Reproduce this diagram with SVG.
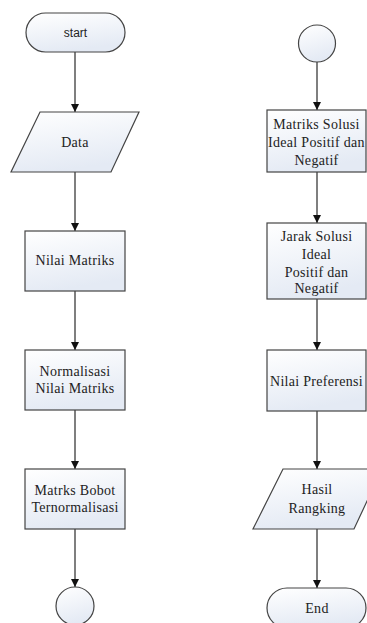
<svg xmlns="http://www.w3.org/2000/svg" width="367" height="623" viewBox="0 0 367 623">
<defs>
<linearGradient id="fillg" x1="0" y1="0" x2="0.3" y2="1">
<stop offset="0" stop-color="#ffffff"/>
<stop offset="1" stop-color="#e4eaf4"/>
</linearGradient>
<marker id="arr" viewBox="0 0 10 10" refX="10" refY="5" markerWidth="8" markerHeight="8" markerUnits="userSpaceOnUse" orient="auto">
<path d="M0,0 L10,5 L0,10 z" fill="#111"/>
</marker>
</defs>
<style>
.shape{fill:url(#fillg);stroke:#444;stroke-width:1.2}
.t{font-family:"Liberation Serif","Times New Roman",serif;font-size:14px;letter-spacing:0.3px;fill:#222;text-anchor:middle}
.ts{font-family:"Liberation Sans",Arial,sans-serif;font-size:12px;fill:#222;text-anchor:middle}
.c{stroke:#555;stroke-width:1.5;fill:none;marker-end:url(#arr)}
</style>
<rect width="367" height="623" fill="#ffffff"/>
<g id="connectors">
<line class="c" x1="75" y1="52" x2="75" y2="112"/>
<line class="c" x1="75" y1="172" x2="75" y2="231"/>
<line class="c" x1="75" y1="291" x2="75" y2="350"/>
<line class="c" x1="75" y1="410" x2="75" y2="469"/>
<line class="c" x1="75" y1="529" x2="75" y2="587"/>
<line class="c" x1="317" y1="62" x2="317" y2="110"/>
<line class="c" x1="317" y1="172" x2="317" y2="223"/>
<line class="c" x1="317" y1="299" x2="317" y2="350"/>
<line class="c" x1="317" y1="411" x2="317" y2="469"/>
<line class="c" x1="317" y1="529" x2="317" y2="588"/>
</g>
<g id="start">
<rect class="shape" x="26" y="13" width="99" height="39" rx="19.5"/>
<text class="ts" x="75.5" y="37">start</text>
</g>
<g id="data">
<polygon class="shape" points="40,112 139,112 111,172 11,172"/>
<text class="t" x="75" y="147">Data</text>
</g>
<g id="nilai-matriks">
<rect class="shape" x="25" y="231" width="100" height="60"/>
<text class="t" x="75" y="265">Nilai Matriks</text>
</g>
<g id="normalisasi">
<rect class="shape" x="25" y="350" width="100" height="60"/>
<text class="t" x="75" y="376">Normalisasi</text>
<text class="t" x="75" y="393">Nilai Matriks</text>
</g>
<g id="bobot">
<rect class="shape" x="25" y="469" width="100" height="60"/>
<text class="t" x="75" y="495">Matrks Bobot</text>
<text class="t" x="75" y="512">Ternormalisasi</text>
</g>
<g id="connector-left">
<circle class="shape" cx="75" cy="606" r="19"/>
</g>
<g id="connector-right">
<circle class="shape" cx="317" cy="43.5" r="18.5"/>
</g>
<g id="solusi-ideal">
<rect class="shape" x="267" y="110" width="99" height="62"/>
<text class="t" x="316.5" y="129">Matriks Solusi</text>
<text class="t" x="316.5" y="147">Ideal Positif dan</text>
<text class="t" x="316.5" y="165">Negatif</text>
</g>
<g id="jarak-solusi">
<rect class="shape" x="267" y="223" width="99" height="76"/>
<text class="t" x="316.5" y="241">Jarak Solusi</text>
<text class="t" x="316.5" y="259">Ideal</text>
<text class="t" x="316.5" y="277">Positif dan</text>
<text class="t" x="316.5" y="293">Negatif</text>
</g>
<g id="preferensi">
<rect class="shape" x="267" y="350" width="99" height="61"/>
<text class="t" x="316.5" y="386">Nilai Preferensi</text>
</g>
<g id="hasil">
<polygon class="shape" points="283,469 382,469 354,529 253,529"/>
<text class="t" x="317" y="494">Hasil</text>
<text class="t" x="317" y="513">Rangking</text>
</g>
<g id="end">
<rect class="shape" x="267" y="588" width="99" height="40" rx="20"/>
<text class="t" x="317" y="613">End</text>
</g>
</svg>
